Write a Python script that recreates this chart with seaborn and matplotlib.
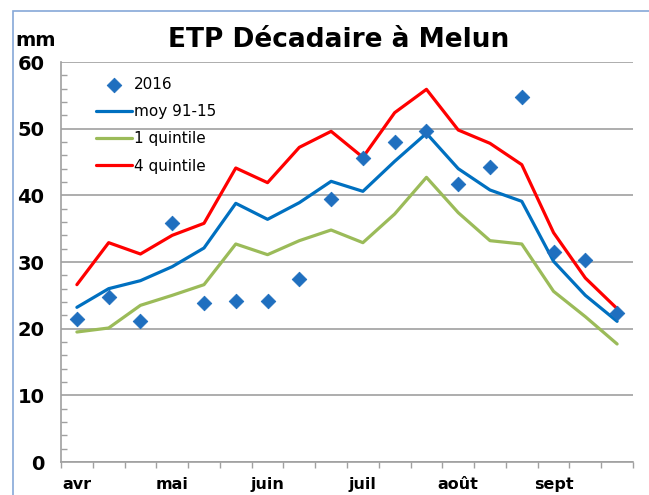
import numpy as np
import pandas as pd
import seaborn as sns
import matplotlib.pyplot as plt
from matplotlib.patches import Rectangle
from matplotlib.ticker import MultipleLocator

#%% data (ETP per decade, mm)
months = ["avr", "mai", "juin", "juil", "août", "sept"]
decade = np.arange(18)
etp_2016 = [21.4, 24.7, 21.1, 35.9, 23.9, 24.2, 24.2, 27.4, 39.5,
            45.6, 48.0, 49.6, 41.7, 44.2, 54.7, 31.5, 30.3, 22.4]
moy_91_15 = [23.2, 26.0, 27.2, 29.3, 32.1, 38.8, 36.4, 38.9, 42.1,
             40.6, 45.1, 49.3, 44.0, 40.8, 39.1, 30.1, 25.0, 21.1]
quint_1 = [19.5, 20.1, 23.5, 25.0, 26.6, 32.7, 31.1, 33.2, 34.8,
           32.9, 37.2, 42.7, 37.4, 33.2, 32.7, 25.6, 21.8, 17.7]
quint_4 = [26.6, 32.9, 31.2, 34.0, 35.8, 44.1, 41.9, 47.2, 49.6,
           45.7, 52.4, 55.9, 49.8, 47.8, 44.6, 34.4, 27.6, 23.0]

df = pd.DataFrame({"decade": decade, "2016": etp_2016, "moy 91-15": moy_91_15,
                   "1 quintile": quint_1, "4 quintile": quint_4})

#%% figure
sns.set_style("white")
plt.rcParams['font.family'] = ['DejaVu Sans']
plt.rcParams['text.color'] = 'black'
plt.rcParams['xtick.labelcolor'] = 'black'
plt.rcParams['ytick.labelcolor'] = 'black'

fig = plt.figure(figsize=(6.49, 4.95), dpi=100)
ax = fig.add_axes([61/649, 1 - 462/495, (633 - 61)/649, (462 - 62)/495])

# chart-area border (Excel style), only left and top visible
fig.patches.append(Rectangle((13/649, -0.1), 1.2, 1 - 11/495 + 0.1, transform=fig.transFigure,
                             fill=False, edgecolor="#86a8d8", lw=1.2))

sns.lineplot(data=df, x="decade", y="moy 91-15", ax=ax, color="#0070c0", lw=2.3, label="moy 91-15")
sns.lineplot(data=df, x="decade", y="1 quintile", ax=ax, color="#9bbb59", lw=2.3, label="1 quintile")
sns.lineplot(data=df, x="decade", y="4 quintile", ax=ax, color="#ff0000", lw=2.3, label="4 quintile")
sns.scatterplot(data=df, x="decade", y="2016", ax=ax, marker="D", s=55, color="#1f6fbf",
                edgecolor="#1f6fbf", label="2016", zorder=5)

ax.set_xlim(-0.5, 17.5)
ax.set_ylim(0, 60)
ax.set_xlabel("")
ax.set_ylabel("")

# y axis
ax.yaxis.set_major_locator(MultipleLocator(10))
ax.yaxis.set_minor_locator(MultipleLocator(2))
ax.grid(axis="y", which="major", color="#a0a0a0", lw=1.2)
ax.tick_params(axis="y", which="major", direction="out", length=5, width=1, color="#a0a0a0",
               labelsize=14, pad=7)
ax.tick_params(axis="y", which="minor", direction="in", length=4, width=1, color="#a0a0a0", left=True)
for lab in ax.get_yticklabels():
    lab.set_fontweight("bold")

# x axis: ticks at decade boundaries, labels at first decade of each month
ax.set_xticks(np.arange(-0.5, 18, 1), minor=True)
ax.set_xticks(decade[::3])
ax.set_xticklabels(months, fontsize=11.5, fontweight="bold")
ax.tick_params(axis="x", which="major", length=0, pad=11)
ax.tick_params(axis="x", which="minor", direction="out", length=4, width=1, color="#a0a0a0", bottom=True)

for s in ["top", "right"]:
    ax.spines[s].set_visible(False)
for s in ["left", "bottom"]:
    ax.spines[s].set_color("#a0a0a0")
    ax.spines[s].set_linewidth(1.2)

# legend: 2016 first
h, l = ax.get_legend_handles_labels()
order = [3, 0, 1, 2]
ax.legend([h[i] for i in order], [l[i] for i in order], loc="upper left",
          bbox_to_anchor=(0.05, 0.978), frameon=False, fontsize=11,
          handlelength=2.4, handletextpad=0.1, labelspacing=0.8, borderaxespad=0)

fig.text(0.522, 1 - 40/495, "ETP Décadaire à Melun", ha="center", va="center",
         fontsize=19, fontweight="bold")
fig.text(15/649, 1 - 40/495, "mm", ha="left", va="center", fontsize=14, fontweight="bold")

fig.savefig("out.png", dpi=100)
